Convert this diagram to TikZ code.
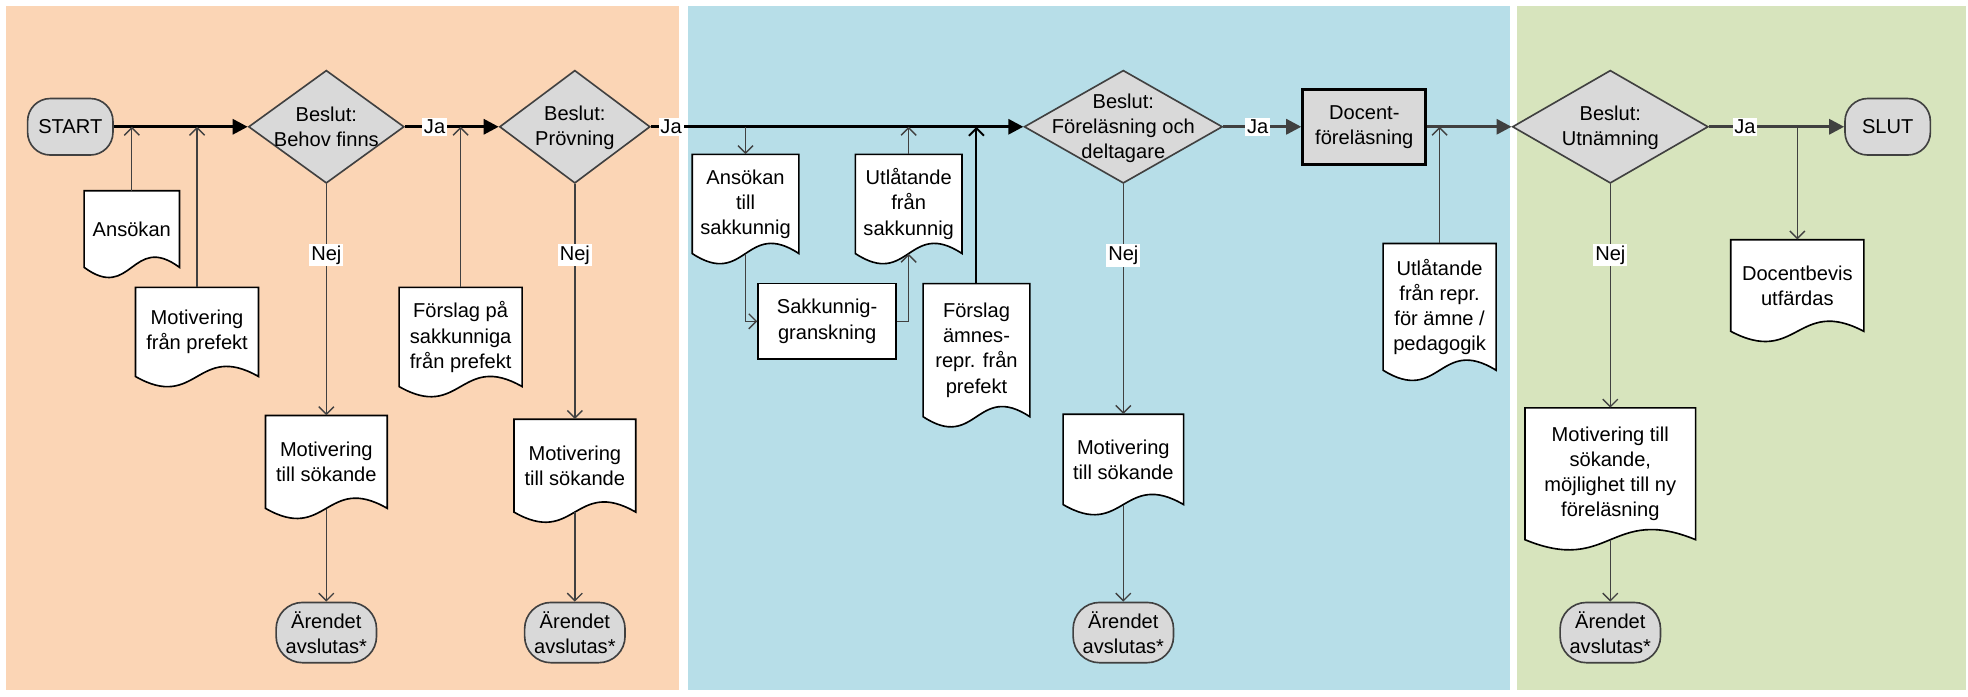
\documentclass[tikz,border=0pt]{standalone}
\usepackage{fontspec}
\setmainfont{Liberation Sans}
\usetikzlibrary{arrows.meta,shapes.geometric}
\definecolor{lanorange}{HTML}{FBD5B5}
\definecolor{lanblue}{HTML}{B7DEE8}
\definecolor{langreen}{HTML}{D7E4BD}
\definecolor{boxgray}{HTML}{D9D9D9}
\definecolor{linegray}{HTML}{404040}
\newcommand{\docnode}[6]{%
  \draw[docline] ({#2-#4/2},#3) -- ({#2+#4/2},#3) -- ({#2+#4/2},#5)
    .. controls (#2,{#5-28}) and (#2,{#5+28}) .. ({#2-#4/2},#5) -- cycle;
  \node[doctext,minimum width=#4pt,minimum height={(#5-#3)*1pt}] (#1) at (#2,{(#3+#5)/2}) {#6};
}
\begin{document}
\begin{tikzpicture}[x=1pt,y=-1pt,
    every node/.style={font=\fontsize{16}{20}\selectfont},
    terminal/.style={draw=linegray,line width=1.3pt,fill=boxgray,rounded corners=18pt,
      minimum width=68pt,minimum height=45pt,inner sep=0pt,align=center},
    endbox/.style={terminal,minimum width=80pt,minimum height=48pt,rounded corners=21pt},
    decision/.style={diamond,draw=linegray,line width=1.3pt,fill=boxgray,inner sep=0pt,minimum height=90pt},
    dectext/.style={align=center,inner sep=0pt},
    procbox/.style={draw=black,line width=1.3pt,fill=white,align=center,inner sep=0pt},
    docline/.style={draw=black,line width=1.3pt,fill=white},
    doctext/.style={align=center,inner sep=0pt},
    mainline/.style={draw=black,line width=2.4pt,-{Triangle[length=12pt,width=12pt]}},
    grayline/.style={mainline,draw=linegray},
    feed/.style={draw=linegray,line width=1.1pt,-{Straight Barb[length=6pt,width=12pt]}},
    lab/.style={fill=white,inner sep=1.5pt}]
  \fill[white] (0,0) rectangle (1568,555);
  \useasboundingbox (0,0) rectangle (1568,555);
  \fill[lanorange] (5,5) rectangle (541,550);
  \fill[lanblue] (548,5) rectangle (1203,550);
  \fill[langreen] (1209,5) rectangle (1566,550);

  \node[terminal] (start) at (56,101) {START};
  \node[decision,minimum width=124pt] (d1) at (260,101) {};
  \node[dectext] (d1t) at (260,101) {Beslut:\\Behov finns};
  \node[decision,minimum width=120pt] (d2) at (458,101) {};
  \node[dectext] (d2t) at (458,102) {Beslut:\\Prövning};
  \node[decision,minimum width=158pt] (d3) at (895,101) {};
  \node[dectext] (d3t) at (895,102) {Beslut:\\Föreläsning och\\deltagare};
  \node[procbox,fill=boxgray,line width=2.4pt,minimum width=98pt,minimum height=60pt] (docent) at (1087,101) {Docent-\\föreläsning};
  \node[decision,minimum width=156pt] (d4) at (1283,101) {};
  \node[dectext] (d4t) at (1283,102) {Beslut:\\Utnämning};
  \node[terminal] (slut) at (1504,101) {SLUT};

  \docnode{ans}{105}{152}{76}{213}{Ansökan}
  \docnode{motpref}{157}{229}{98}{300}{Motivering\\från prefekt}
  \docnode{forsak}{367}{229}{98}{308}{Förslag på\\sakkunniga\\från prefekt}
  \docnode{mot1}{260}{331}{97}{405}{Motivering\\till sökande}
  \docnode{mot2}{458}{334}{97}{408}{Motivering\\till sökande}
  \docnode{anssak}{594}{123}{85}{202}{Ansökan\\till\\sakkunnig}
  \docnode{utlsak}{724}{123}{85}{202}{Utlåtande\\från\\sakkunnig}
  \docnode{forsamne}{778}{226}{85}{332}{Förslag\\ämnes-\\repr. från\\prefekt}
  \docnode{mot3}{895}{330}{96}{402}{Motivering\\till sökande}
  \docnode{utlrepr}{1147}{194}{90}{295}{Utlåtande\\från repr.\\för ämne /\\pedagogik}
  \docnode{bevis}{1432}{191}{106}{264}{Docentbevis\\utfärdas}
  \docnode{mot4}{1283}{325}{136}{430}{Motivering till\\sökande,\\möjlighet till ny\\föreläsning}
  \node[procbox,minimum width=110pt,minimum height=60pt] (sakg) at (659,256) {Sakkunnig-\\granskning};

  \node[endbox] (end1) at (260,504) {Ärendet\\avslutas*};
  \node[endbox] (end2) at (458,504) {Ärendet\\avslutas*};
  \node[endbox] (end3) at (895,504) {Ärendet\\avslutas*};
  \node[endbox] (end4) at (1283,504) {Ärendet\\avslutas*};

  \draw[mainline] (start) -- (d1);
  \draw[mainline] (d1.east) -- node[lab,pos=0.316] (ja1) {Ja} (d2.west);
  \draw[mainline] (d2.east) -- node[lab,pos=0.054] (ja2) {Ja} (d3.west);
  \draw[grayline] (d3.east) -- node[lab,pos=0.44] (ja3) {Ja} (docent.west);
  \draw[grayline] (docent.east) -- (d4.west);
  \draw[grayline] (d4.east) -- node[lab,pos=0.266] (ja4) {Ja} (slut.west);

  \draw[feed] (ans.north) -- (ans.north |- start.east);
  \draw[feed] (motpref.north) -- (motpref.north |- start.east);
  \draw[feed] (forsak.north) -- (forsak.north |- d1.east);
  \draw[feed] (anssak.north |- d2.east) -- (anssak.north);
  \draw[feed] (anssak.south) |- (sakg.west);
  \draw[feed] (sakg.east) -| (utlsak.south);
  \draw[feed] (utlsak.north) -- (utlsak.north |- d2.east);
  \draw[feed,draw=black,line width=1.6pt] (forsamne.north) -- (forsamne.north |- d2.east);
  \draw[feed] (utlrepr.north) -- (utlrepr.north |- docent.east);
  \draw[feed] (bevis.north |- d4.east) -- (bevis.north);

  \draw[feed] (d1.south) -- node[lab,pos=0.308] (nej1) {Nej} (mot1.north);
  \draw[feed] (d2.south) -- node[lab,pos=0.303] (nej2) {Nej} (mot2.north);
  \draw[feed] (d3.south) -- node[lab,pos=0.31] (nej3) {Nej} (mot3.north);
  \draw[feed] (d4.south) -- node[lab,pos=0.318] (nej4) {Nej} (mot4.north);
  \draw[feed] (mot1.south) -- (end1.north);
  \draw[feed] (mot2.south) -- (end2.north);
  \draw[feed] (mot3.south) -- (end3.north);
  \draw[feed] (mot4.south) -- (end4.north);
\end{tikzpicture}
\end{document}
